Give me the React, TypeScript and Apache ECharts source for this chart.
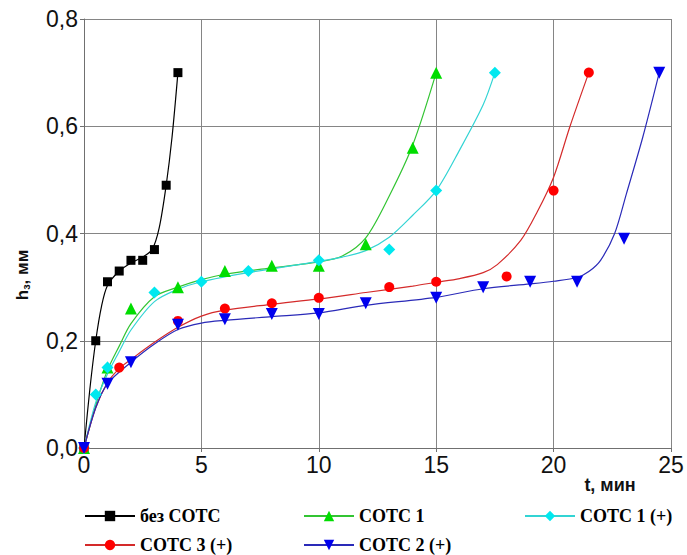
import React, { useEffect, useRef } from "react";
import * as echarts from "echarts";

// Measured points (markers)
const ptsNoCool: number[][] = [[0, 0], [0.5, 0.2], [1, 0.31], [1.5, 0.33], [2, 0.35], [2.5, 0.35], [3, 0.37], [3.5, 0.49], [4, 0.7]];
const ptsSots1: number[][] = [[0, 0], [1, 0.15], [2, 0.26], [4, 0.3], [6, 0.33], [8, 0.34], [10, 0.34], [12, 0.38], [14, 0.56], [15, 0.7]];
const ptsSots1p: number[][] = [[0, 0], [0.5, 0.1], [1, 0.15], [3, 0.29], [5, 0.31], [7, 0.33], [10, 0.35], [13, 0.37], [15, 0.48], [17.5, 0.7]];
const ptsSots3p: number[][] = [[0, 0], [1.5, 0.15], [4, 0.237], [6, 0.26], [8, 0.27], [10, 0.28], [13, 0.3], [15, 0.31], [18, 0.32], [20, 0.48], [21.5, 0.7]];
const ptsSots2p: number[][] = [[0, 0], [1, 0.12], [2, 0.16], [4, 0.23], [6, 0.24], [8, 0.25], [10, 0.25], [12, 0.27], [15, 0.28], [17, 0.3], [19, 0.31], [21, 0.31], [23, 0.39], [24.5, 0.7]];

// Fitted curves
const fitNoCool: number[][] = [[0, 0], [0.25, 0.11], [0.5, 0.2], [0.75, 0.265], [1, 0.303], [1.5, 0.33], [2, 0.345], [2.5, 0.356], [2.9, 0.37], [3.2, 0.41], [3.5, 0.49], [3.75, 0.58], [4, 0.7]];
const fitSots1: number[][] = [[0, 0], [0.5, 0.08], [1, 0.145], [1.5, 0.19], [2, 0.232], [3, 0.282], [4, 0.3], [5, 0.314], [6, 0.324], [8, 0.336], [10, 0.347], [11, 0.358], [12, 0.392], [13, 0.47], [14, 0.565], [15, 0.7]];
const fitSots1p: number[][] = [[0, 0], [0.5, 0.085], [1, 0.138], [1.5, 0.18], [2, 0.22], [3, 0.273], [4, 0.296], [5, 0.31], [7, 0.327], [10, 0.348], [11, 0.356], [12, 0.368], [13, 0.393], [14, 0.434], [15, 0.48], [16, 0.556], [17, 0.64], [17.5, 0.7]];
const fitSots3p: number[][] = [[0, 0], [0.5, 0.075], [1, 0.122], [1.5, 0.148], [2, 0.165], [3, 0.197], [4, 0.225], [5, 0.246], [6, 0.257], [8, 0.268], [10, 0.278], [12, 0.29], [14, 0.302], [15, 0.309], [16, 0.316], [17, 0.327], [17.6, 0.342], [18.6, 0.387], [19.3, 0.44], [20, 0.505], [20.7, 0.6], [21.5, 0.7]];
const fitSots2p: number[][] = [[0, 0], [0.5, 0.075], [1, 0.12], [2, 0.16], [3, 0.194], [4, 0.221], [5, 0.233], [6, 0.238], [8, 0.245], [10, 0.252], [12, 0.266], [15, 0.281], [17, 0.297], [19, 0.306], [20, 0.311], [21, 0.318], [21.5, 0.329], [22, 0.35], [22.6, 0.4], [23.1, 0.474], [23.8, 0.58], [24.5, 0.7]];

const seriesNames = ["без СОТС", "СОТС 1", "СОТС 1 (+)", "СОТС 3 (+)", "СОТС 2 (+)"];
const xTicks = [0, 5, 10, 15, 20, 25];
const yTicks = [0, 0.2, 0.4, 0.6, 0.8];

const DOWN_TRI = "path://M0,0 L10,0 L5,9 Z";
const UP_TRI = "path://M5,0 L10,9 L0,9 Z";
const SERIF = "'Liberation Serif', 'Times New Roman', serif";

export default function App() {
  const ref = useRef<HTMLDivElement>(null);
  useEffect(() => {
    if (!ref.current) return;
    const chart = echarts.init(ref.current, undefined, { renderer: "svg" });

    const defs = [
      { name: seriesNames[0], fit: fitNoCool, pts: ptsNoCool, line: "#000000", mark: "#000000", symbol: "rect", size: 9 },
      { name: seriesNames[1], fit: fitSots1, pts: ptsSots1, line: "#33c433", mark: "#00dd00", symbol: UP_TRI, size: 12 },
      { name: seriesNames[2], fit: fitSots1p, pts: ptsSots1p, line: "#33d4d4", mark: "#00e8ef", symbol: "diamond", size: 12 },
      { name: seriesNames[3], fit: fitSots3p, pts: ptsSots3p, line: "#d42a2a", mark: "#ff0000", symbol: "circle", size: 10 },
      { name: seriesNames[4], fit: fitSots2p, pts: ptsSots2p, line: "#2a2ab8", mark: "#0000ee", symbol: DOWN_TRI, size: 12 },
    ];

    const series: any[] = [];
    defs.forEach((d) => {
      series.push({
        type: "line",
        name: d.name,
        data: d.fit,
        smooth: 0.3,
        symbol: d.symbol,
        showSymbol: false,
        lineStyle: { color: d.line, width: 1.2 },
        itemStyle: { color: d.mark },
        z: 2,
        silent: true,
      });
    });
    defs.forEach((d) => {
      series.push({
        type: "scatter",
        name: d.name + " ",
        data: d.pts,
        symbol: d.symbol,
        symbolSize: d.size,
        itemStyle: { color: d.mark, opacity: 1 },
        z: 3,
      });
    });

    const legendText = { fontFamily: SERIF, fontWeight: "bold" as const, fontSize: 18, color: "#000" };
    const legendPos = [
      { left: 84, top: 507 },
      { left: 303, top: 507 },
      { left: 524, top: 507 },
      { left: 84, top: 536 },
      { left: 303, top: 536 },
    ];
    const legends = seriesNames.map((n, i) => ({
      data: [{ name: n, textStyle: legendText }],
      left: legendPos[i].left,
      top: legendPos[i].top,
      padding: 0,
      itemWidth: 50,
      itemHeight: 13,
      itemGap: 0,
      textStyle: legendText,
      selectedMode: false,
    }));

    chart.setOption({
      animation: false,
      backgroundColor: "#ffffff",
      grid: { left: 84, right: 16, top: 19, bottom: 107, containLabel: false },
      xAxis: {
        type: "value",
        min: xTicks[0],
        max: xTicks[xTicks.length - 1],
        interval: 5,
        axisLine: { show: true, lineStyle: { color: "#707070", width: 1 } },
        axisTick: { show: true, inside: false, length: 4, lineStyle: { color: "#707070" } },
        axisLabel: { fontFamily: "Liberation Sans", fontSize: 23, color: "#111", margin: 5, formatter: (v: number) => String(v) },
        splitLine: { show: true, lineStyle: { color: "#858585", width: 1 } },
      },
      yAxis: {
        type: "value",
        min: yTicks[0],
        max: yTicks[yTicks.length - 1],
        interval: 0.2,
        axisLine: { show: true, lineStyle: { color: "#707070", width: 1 } },
        axisTick: { show: true, inside: false, length: 4, lineStyle: { color: "#707070" } },
        axisLabel: { fontFamily: "Liberation Sans", fontSize: 23, color: "#111", margin: 6, formatter: (v: number) => v.toFixed(1).replace(".", ",") },
        splitLine: { show: true, lineStyle: { color: "#858585", width: 1 } },
      },
      legend: legends,
      graphic: [
        {
          type: "text",
          x: 22,
          y: 275,
          rotation: Math.PI / 2,
          style: {
            text: "h{sub|з}, мм",
            fontFamily: "Liberation Sans",
            fontWeight: "bold",
            fontSize: 17,
            fill: "#111",
            align: "center",
            verticalAlign: "middle",
            rich: {
              sub: { fontFamily: "Liberation Sans", fontWeight: "bold", fontSize: 11, fill: "#111", padding: [8, 0, 0, 0] },
            },
          },
        },
        {
          type: "text",
          x: 610,
          y: 485,
          style: {
            text: "t, мин",
            fontFamily: "Liberation Sans",
            fontWeight: "bold",
            fontSize: 18,
            fill: "#111",
            align: "center",
            verticalAlign: "middle",
          },
        },
      ],
      series,
    });
    return () => chart.dispose();
  }, []);
  return <div ref={ref} style={{ width: 687, height: 555, position: "absolute", left: 0, top: 0 }} />;
}
